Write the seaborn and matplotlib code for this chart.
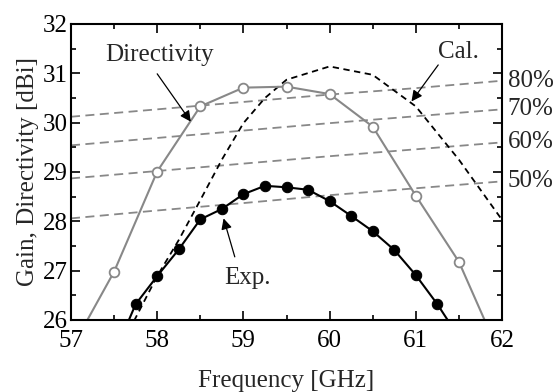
import matplotlib
matplotlib.use("Agg")
import matplotlib.pyplot as plt
import seaborn as sns

# directivity (open gray circles)
dir_freq = [57.0, 57.5, 58.0, 58.5, 59.0, 59.5, 60.0, 60.5, 61.0, 61.5, 62.0]
dir_gain = [25.4, 26.98, 29.01, 30.33, 30.71, 30.73, 30.58, 29.92, 28.52, 27.18, 25.2]

# measured gain (filled black circles)
exp_freq = [57.5, 57.75, 58.0, 58.25, 58.5, 58.75, 59.0, 59.25, 59.5, 59.75,
            60.0, 60.25, 60.5, 60.75, 61.0, 61.25, 61.5]
exp_gain = [25.3, 26.32, 26.89, 27.43, 28.04, 28.25, 28.55, 28.72, 28.69, 28.64,
            28.41, 28.11, 27.80, 27.42, 26.91, 26.32, 25.65]

# calculated gain (black dashed)
cal_freq = [57.5, 58.0, 58.25, 58.5, 58.75, 59.0, 59.25, 59.5, 60.0, 60.5, 61.0, 61.5, 62.0]
cal_gain = [25.2, 26.89, 27.62, 28.43, 29.25, 29.99, 30.5, 30.87, 31.14, 30.97, 30.33, 29.25, 28.03]

# aperture efficiency reference lines (gray dashed)
eff_freq = [57.0, 58.0, 59.0, 60.0, 61.0, 62.0]
eff_labels = ["80%", "70%", "60%", "50%"]
eff_80 = [30.12, 30.27, 30.42, 30.57, 30.70, 30.85]
eff_70 = [29.54, 29.69, 29.84, 29.99, 30.13, 30.27]
eff_60 = [28.87, 29.02, 29.17, 29.32, 29.46, 29.60]
eff_50 = [28.06, 28.22, 28.37, 28.53, 28.67, 28.81]

sns.set_theme(style="ticks")
plt.rcParams["font.family"] = ["Liberation Serif", "DejaVu Serif"]

FS = 18

fig = plt.figure(figsize=(5.55, 3.92), dpi=100)
ax = fig.add_axes([71 / 555, 1 - 320 / 392, 431 / 555, 296 / 392])

gray = "#888888"
for vals, lab in zip([eff_80, eff_70, eff_60, eff_50], eff_labels):
    sns.lineplot(x=eff_freq, y=vals, ax=ax, color=gray, lw=1.3,
                 linestyle=(0, (5, 3)))
    ax.annotate(lab, xy=(62, vals[-1]), xytext=(4, 0), textcoords="offset points",
                ha="left", va="center", fontsize=FS, annotation_clip=False)

sns.lineplot(x=cal_freq, y=cal_gain, ax=ax, color="black", lw=1.3,
             linestyle=(0, (3.5, 2.5)))
sns.lineplot(x=dir_freq, y=dir_gain, ax=ax, color=gray, lw=1.5, marker="o",
             markersize=7, markerfacecolor="white", markeredgecolor=gray,
             markeredgewidth=1.3)
sns.lineplot(x=exp_freq, y=exp_gain, ax=ax, color="black", lw=1.5, marker="o",
             markersize=7.5, markerfacecolor="black", markeredgecolor="black")

ax.set_xlim(57, 62)
ax.set_ylim(26, 32)
ax.set_xticks([57, 58, 59, 60, 61, 62])
ax.set_yticks([26, 27, 28, 29, 30, 31, 32])
ax.set_xticks([57.5, 58.5, 59.5, 60.5, 61.5], minor=True)
ax.set_yticks([26.5, 27.5, 28.5, 29.5, 30.5, 31.5], minor=True)
ax.tick_params(which="both", direction="in", top=True, right=True,
               width=1.2, colors="black", labelsize=FS)
ax.tick_params(axis="x", pad=7)
ax.tick_params(axis="y", pad=2)
ax.tick_params(which="major", length=6.5)
ax.tick_params(which="minor", length=3.8)
for sp in ax.spines.values():
    sp.set_linewidth(1.5)
    sp.set_color("black")

ax.set_xlabel("Frequency [GHz]", fontsize=FS, labelpad=13)
ax.set_ylabel("Gain, Directivity [dBi]", fontsize=FS, labelpad=3)

arrow = dict(arrowstyle="-|>", color="black", lw=0.9, mutation_scale=16,
             shrinkA=0, shrinkB=0)
ax.text(58.03, 31.38, "Directivity", ha="center", va="center", fontsize=FS)
ax.annotate("", xy=(58.39, 30.02), xytext=(58.0, 30.99), arrowprops=arrow)
ax.text(59.05, 26.85, "Exp.", ha="center", va="center", fontsize=FS)
ax.annotate("", xy=(58.77, 28.06), xytext=(58.9, 27.28), arrowprops=arrow)
ax.text(61.49, 31.44, "Cal.", ha="center", va="center", fontsize=FS)
ax.annotate("", xy=(60.95, 30.43), xytext=(61.26, 31.17), arrowprops=arrow)

fig.savefig("out.png", dpi=100)
